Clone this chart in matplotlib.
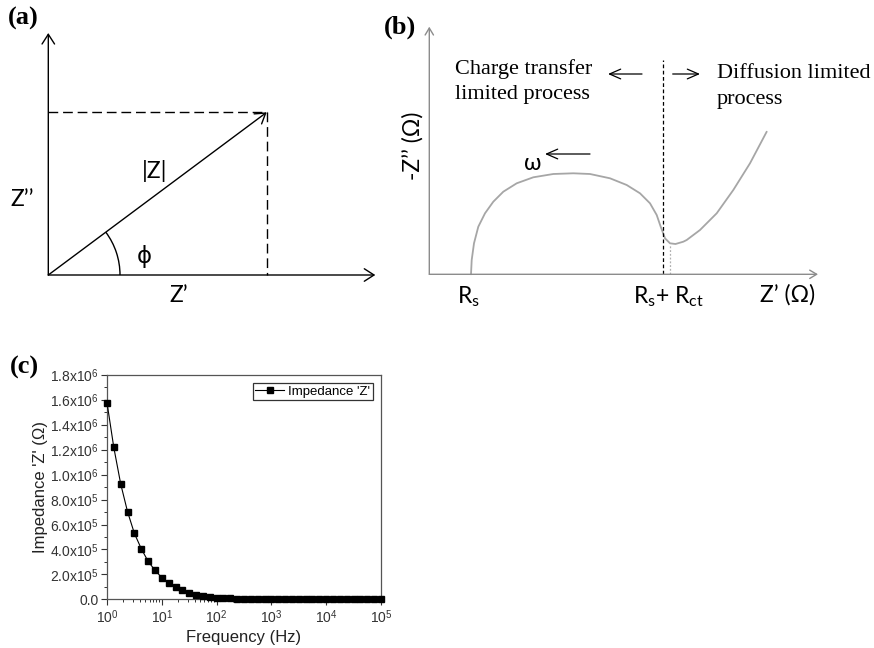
import numpy as np
import matplotlib
matplotlib.use("Agg")
import matplotlib.pyplot as plt
from matplotlib.patches import Arc

plt.rcParams['mathtext.fontset'] = 'custom'
plt.rcParams['mathtext.rm'] = 'Lato'
plt.rcParams['mathtext.it'] = 'Lato:italic'
plt.rcParams['mathtext.sf'] = 'Liberation Sans'

# ---- panel (a): phasor diagram (diagram units) ----
z_real = 218.4
z_imag = 162.7
axis_len_x = 327
axis_len_y = 242
phi_radius = 71.7

# ---- panel (b): Nyquist schematic (diagram units) ----
r_s = 41.7
r_s_ct = 234
nyq_x = [41.7, 42.4, 44.7, 49.0, 55.7, 64.0, 74.0, 87.4, 104.0, 124.0, 144.0,
         160.7, 180.7, 197.4, 210.7, 220.7, 227.4, 231.4, 235.7, 240.7, 246.2,
         254.0, 257.4, 270.7, 287.4, 304.0, 320.7, 337.4]
nyq_y = [0.0, 14.3, 31.0, 47.6, 61.0, 72.6, 82.6, 91.0, 97.0, 100.3, 101.0,
         100.3, 96.0, 89.3, 81.0, 71.0, 59.3, 47.6, 36.0, 31.0, 30.3,
         32.6, 34.3, 44.3, 61.0, 84.3, 111.0, 142.6]
axis_len_bx = 388.7
axis_len_by = 247.6

# ---- panel (c): impedance vs frequency ----
freq = [1.0, 1.33, 1.78, 2.37, 3.16, 4.22, 5.62, 7.5,
        10.0, 13.3, 17.8, 23.7, 31.6, 42.2, 56.2, 75.0,
        100.0, 133, 178, 237, 316, 422, 562, 750,
        1e3, 1.33e3, 1.78e3, 2.37e3, 3.16e3, 4.22e3, 5.62e3, 7.5e3,
        1e4, 1.33e4, 1.78e4, 2.37e4, 3.16e4, 4.22e4, 5.62e4, 7.5e4, 1e5]
impedance = [1.578e6, 1.219e6, 0.925e6, 0.703e6, 0.529e6, 0.406e6, 0.305e6, 0.233e6,
             0.174e6, 0.131e6, 0.099e6, 0.075e6, 0.053e6, 0.037e6, 0.027e6, 0.019e6,
             0.012e6, 0.009e6, 0.007e6, 0.005e6, 0.004e6, 0.0035e6, 0.003e6, 0.0025e6,
             0.002e6, 0.0018e6, 0.0016e6, 0.0014e6, 0.0012e6, 0.0011e6, 0.001e6, 0.0009e6,
             0.0008e6, 0.0007e6, 0.0006e6, 0.0005e6, 0.0005e6, 0.0004e6, 0.0004e6, 0.0003e6, 0.0003e6]
y_ticks = [0, 2e5, 4e5, 6e5, 8e5, 1e6, 1.2e6, 1.4e6, 1.6e6, 1.8e6]
y_tick_labels = ['0.0', '2.0x10$^{\\mathsf{5}}$', '4.0x10$^{\\mathsf{5}}$', '6.0x10$^{\\mathsf{5}}$',
                 '8.0x10$^{\\mathsf{5}}$', '1.0x10$^{\\mathsf{6}}$', '1.2x10$^{\\mathsf{6}}$',
                 '1.4x10$^{\\mathsf{6}}$', '1.6x10$^{\\mathsf{6}}$', '1.8x10$^{\\mathsf{6}}$']
x_ticks = [1, 10, 100, 1e3, 1e4, 1e5]
x_tick_labels = ['10$^{\\mathsf{%d}}$' % i for i in range(6)]

W, H = 874, 648
fig = plt.figure(figsize=(W / 100, H / 100), dpi=100)

sans = 'Lato'
serif = 'Liberation Serif'
fs_sans = 16.5
fs_serif = 16
fs_tag = 19

# ================= (a) =================
ax_a = fig.add_axes([0, 1 - 320 / H, 400 / W, 320 / H])
ax_a.set_xlim(-48.3, 351.7)
ax_a.set_ylim(-45, 275)
ax_a.axis('off')
arrow_kw = dict(arrowstyle='->,head_length=0.7,head_width=0.45', lw=1.0, color='black',
                shrinkA=0, shrinkB=0, mutation_scale=10)
ax_a.annotate('', xy=(axis_len_x, 0), xytext=(0, 0), arrowprops=arrow_kw)
ax_a.annotate('', xy=(0, axis_len_y), xytext=(0, 0), arrowprops=arrow_kw)
ax_a.annotate('', xy=(z_real, z_imag), xytext=(0, 0), arrowprops=arrow_kw)
ax_a.plot([0, z_real], [z_imag, z_imag], color='black', lw=1.0, dashes=(7, 3.5))
ax_a.plot([z_real, z_real], [z_imag, 0], color='black', lw=1.0, dashes=(7, 3.5))
phi_deg = np.degrees(np.arctan2(z_imag, z_real))
ax_a.add_patch(Arc((0, 0), 2 * phi_radius, 2 * phi_radius, theta1=0, theta2=phi_deg,
                   color='black', lw=1.0))
ax_a.text(106.7, 104.3, '|Z|', fontsize=fs_sans, family=sans, ha='center', va='center')
ax_a.text(-26.6, 75.7, 'Z\u2019\u2019', fontsize=fs_sans, family=sans, ha='center', va='center')
ax_a.text(95.7, 18.3, '\u03d5', fontsize=fs_sans, family=['DejaVu Sans'], ha='center', va='center')
ax_a.text(130, -21, 'Z\u2019', fontsize=fs_sans, family=sans, ha='center', va='center')
ax_a.text(-25, 257, '(a)', fontsize=fs_tag, family=serif, fontweight='bold', ha='center', va='center')

# ================= (b) =================
ax_b = fig.add_axes([380 / W, 1 - 320 / H, 494 / W, 320 / H])
ax_b.set_xlim(-49.3, 444.7)
ax_b.set_ylim(-45.7, 274.3)
ax_b.axis('off')
gray_arrow = dict(arrowstyle='->,head_length=0.5,head_width=0.3', lw=1.0, color='#8c8c8c',
                  shrinkA=0, shrinkB=0, mutation_scale=10)
ax_b.annotate('', xy=(axis_len_bx, 0), xytext=(0, 0), arrowprops=gray_arrow)
ax_b.annotate('', xy=(0, axis_len_by), xytext=(0, 0), arrowprops=gray_arrow)
ax_b.plot(nyq_x, nyq_y, color='#a6a6a6', lw=1.3, solid_capstyle='round', solid_joinstyle='round')
ax_b.plot([r_s_ct, r_s_ct], [0, 214.3], color='black', lw=0.9, dashes=(3, 2))
ax_b.plot([241, 241], [0, 30], color='#b0b0b0', lw=0.9, dashes=(1.5, 1.5))
text_arrow = dict(arrowstyle='->,head_length=0.8,head_width=0.35', lw=0.9, color='black',
                  shrinkA=0, shrinkB=0, mutation_scale=10)
ax_b.annotate('', xy=(178.7, 200.3), xytext=(212.7, 200.3), arrowprops=text_arrow)
ax_b.annotate('', xy=(270.7, 200.3), xytext=(243.4, 200.3), arrowprops=text_arrow)
ax_b.annotate('', xy=(115.7, 120.3), xytext=(160.7, 120.3), arrowprops=text_arrow)
ax_b.text(25.7, 192.5, 'Charge transfer\nlimited process', fontsize=fs_serif, family=serif,
          ha='left', va='center', linespacing=1.45)
ax_b.text(287.7, 187.8, 'Diffusion limited\nprocess', fontsize=fs_serif, family=serif,
          ha='left', va='center', linespacing=1.45)
ax_b.text(-16.3, 128.3, '-Z\u2019\u2019 (\u03a9)', fontsize=fs_sans, family=sans, rotation=90,
          ha='center', va='center')
ax_b.text(103.7, 111.3, '\u03c9', fontsize=fs_sans, family=sans, ha='center', va='center')
ax_b.text(38.7, -22.7, 'R$_\\mathrm{s}$', fontsize=fs_sans, family=sans, ha='center', va='center')
ax_b.text(238.7, -22.7, 'R$_\\mathrm{s}$+ R$_\\mathrm{ct}$', fontsize=fs_sans, family=sans,
          ha='center', va='center')
ax_b.text(358.7, -20.7, 'Z\u2019 (\u03a9)', fontsize=fs_sans, family=sans, ha='center', va='center')
ax_b.text(-29.3, 247.3, '(b)', fontsize=fs_tag, family=serif, fontweight='bold', ha='center', va='center')

# ================= (c) =================
ax_c = fig.add_axes([107 / W, 1 - 599.3 / H, 274 / W, 224.3 / H])
ax_c.plot(freq, impedance, color='black', lw=0.8, marker='s', markersize=4.2,
          clip_on=False, zorder=3, label="Impedance 'Z'")
ax_c.set_xscale('log')
ax_c.set_xlim(1, 1e5)
ax_c.set_ylim(0, 1.8e6)
ax_c.set_xticks(x_ticks)
ax_c.set_xticklabels(x_tick_labels, family='Liberation Sans', fontsize=10, color='#333333')
ax_c.set_yticks(y_ticks)
ax_c.set_yticklabels(y_tick_labels, family='Liberation Sans', fontsize=10, color='#333333')
ax_c.set_yticks(np.arange(1e5, 1.8e6, 2e5), minor=True)
ax_c.tick_params(which='major', direction='out', length=4, width=0.8, color='#333333', pad=2)
ax_c.tick_params(which='minor', direction='out', length=2.5, width=0.7, color='#333333')
for s in ax_c.spines.values():
    s.set_color('#555555')
    s.set_linewidth(0.9)
ax_c.set_xlabel('Frequency (Hz)', family='Liberation Sans', fontsize=12, color='#222222', labelpad=3)
ax_c.set_ylabel("Impedance 'Z' (\u03a9)", family='Liberation Sans', fontsize=12, color='#222222',
                labelpad=1)
leg = ax_c.legend(loc='upper right', prop={'family': 'Liberation Sans', 'size': 9.5},
                  frameon=True, fancybox=False, borderpad=0.2, handlelength=2.2,
                  handletextpad=0.3, borderaxespad=0.6, markerscale=0.9)
leg.get_frame().set_edgecolor('black')
leg.get_frame().set_linewidth(0.9)
fig.text(24 / W, 1 - 367 / H, '(c)', fontsize=fs_tag, family=serif, fontweight='bold',
         ha='center', va='center')

fig.savefig('out.png', dpi=100)
